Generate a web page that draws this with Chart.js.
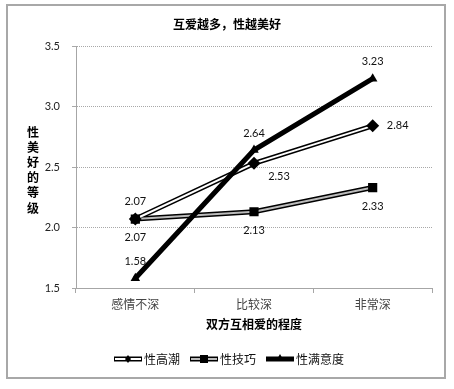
<!DOCTYPE html>
<html>
<head>
<meta charset="utf-8">
<script src="https://cdn.jsdelivr.net/npm/chart.js@4.4.0/dist/chart.umd.min.js"></script>
<style>
  html, body { margin: 0; padding: 0; background: #fff; }
  canvas { display: block; }
</style>
</head>
<body>
<canvas id="c" width="454" height="389"></canvas>
<script>
// data
const categories = ['感情不深', '比较深', '非常深'];
const orgasm = [2.07, 2.53, 2.84];        // 性高潮
const skill = [2.07, 2.13, 2.33];         // 性技巧
const satisfaction = [1.58, 2.64, 3.23];  // 性满意度
const seriesNames = ['性高潮', '性技巧', '性满意度'];
const yTicks = [1.5, 2.0, 2.5, 3.0, 3.5];
const chartTitle = '互爱越多，性越美好';
const xTitle = '双方互相爱的程度';
const yTitle = '性美好的等级';

const latin = "Lato, 'Noto Sans CJK SC', sans-serif";
const cjk = "'Noto Sans CJK SC', sans-serif";

// label offsets (px) from each point: [series][point]
const labelOffsets = [
    [[0, -18], [25, 13], [25, 0]],   // 性高潮
    [[0, 18], [0, 19], [0, 19]],     // 性技巧
    [[0, -17], [0, -17], [0, -17]]   // 性满意度
];

const frame = {
    id: 'frame',
    beforeDraw(chart) {
        const ctx = chart.ctx;
        ctx.save();
        ctx.fillStyle = '#fff';
        ctx.fillRect(0, 0, chart.width, chart.height);
        ctx.strokeStyle = '#a8a8a8';
        ctx.lineWidth = 2;
        ctx.strokeRect(7, 5, 438, 373);
        ctx.restore();
    },
    afterDraw(chart) {
        const ctx = chart.ctx;
        ctx.save();
        ctx.fillStyle = '#000';
        ctx.textAlign = 'center';
        ctx.textBaseline = 'middle';
        // title
        ctx.font = 'bold 12px ' + cjk;
        ctx.fillText(chartTitle, 227, 24);
        // vertical y title
        const chars = Array.from(yTitle);
        chars.forEach((ch, i) => ctx.fillText(ch, 33, 132 + i * 15.2));

        // legend
        ctx.font = '12px ' + cjk;
        const iconW = 28, gap = 2, itemGap = 10;
        const widths = seriesNames.map(n => iconW + gap + ctx.measureText(n).width);
        const total = widths.reduce((a, b) => a + b, 0) + itemGap * (widths.length - 1);
        let x = 229 - total / 2;
        const y = 359;
        seriesNames.forEach((name, i) => {
            drawIcon(ctx, i, x, y, iconW);
            ctx.textAlign = 'left';
            ctx.fillStyle = '#111';
            ctx.fillText(name, x + iconW + gap, y);
            x += widths[i] + itemGap;
        });
        ctx.restore();
    },
    afterDatasetsDraw(chart) {
        const ctx = chart.ctx;
        const metaIdx = [1, 2, 0];
        const values = [orgasm, skill, satisfaction];
        ctx.save();
        ctx.font = '11px ' + latin;
        ctx.fillStyle = '#111';
        ctx.textAlign = 'center';
        ctx.textBaseline = 'middle';
        metaIdx.forEach((di, s) => {
            const meta = chart.getDatasetMeta(di);
            meta.data.forEach((pt, j) => {
                const o = labelOffsets[s][j];
                ctx.fillText(values[s][j].toFixed(2), pt.x + o[0], pt.y + o[1]);
            });
        });
        ctx.restore();
    }
};

function drawIcon(ctx, i, x, y, w) {
    ctx.save();
    ctx.lineCap = 'butt';
    if (i < 2) {
        ctx.strokeStyle = '#000';
        ctx.lineWidth = 5;
        ctx.beginPath(); ctx.moveTo(x, y); ctx.lineTo(x + w, y); ctx.stroke();
        ctx.strokeStyle = i === 0 ? '#fff' : '#bbb';
        ctx.lineWidth = 2;
        ctx.beginPath(); ctx.moveTo(x + 1, y); ctx.lineTo(x + w - 1, y); ctx.stroke();
        ctx.fillStyle = '#000';
        if (i === 0) {
            ctx.beginPath();
            ctx.moveTo(x + w / 2, y - 4); ctx.lineTo(x + w / 2 + 3, y);
            ctx.lineTo(x + w / 2, y + 4); ctx.lineTo(x + w / 2 - 3, y);
            ctx.closePath(); ctx.fill();
        } else {
            ctx.fillRect(x + w / 2 - 4, y - 4, 8, 8);
        }
    } else {
        ctx.strokeStyle = '#000';
        ctx.lineWidth = 5;
        ctx.beginPath(); ctx.moveTo(x, y); ctx.lineTo(x + w, y); ctx.stroke();
        ctx.fillStyle = '#000';
        ctx.beginPath();
        ctx.moveTo(x + w / 2, y - 5); ctx.lineTo(x + w / 2 + 4, y + 2); ctx.lineTo(x + w / 2 - 4, y + 2);
        ctx.closePath(); ctx.fill();
    }
    ctx.restore();
}

const flat = { tension: 0, fill: false, pointRadius: 0, pointHoverRadius: 0 };

new Chart(document.getElementById('c'), {
    type: 'line',
    data: {
        labels: categories,
        datasets: [
            { ...flat, label: seriesNames[2], data: satisfaction, borderColor: '#000', borderWidth: 5,
              pointStyle: 'triangle', pointRadius: 5.5, pointBorderWidth: 0,
              pointBackgroundColor: '#000', pointBorderColor: '#000', order: 0 },
            { ...flat, label: seriesNames[0], data: orgasm, showLine: false,
              pointStyle: 'rectRot', pointRadius: 6.5, pointBorderWidth: 0,
              pointBackgroundColor: '#000', pointBorderColor: '#000', order: 1 },
            { ...flat, label: seriesNames[1], data: skill, showLine: false,
              pointStyle: 'rect', pointRadius: 6.5, pointBorderWidth: 0,
              pointBackgroundColor: '#000', pointBorderColor: '#000', order: 1 },
            { ...flat, data: orgasm, borderColor: '#fff', borderWidth: 2, order: 2 },
            { ...flat, data: skill, borderColor: '#bbb', borderWidth: 2, order: 2 },
            { ...flat, data: orgasm, borderColor: '#000', borderWidth: 5, order: 3 },
            { ...flat, data: skill, borderColor: '#000', borderWidth: 5, order: 3 }
        ]
    },
    options: {
        responsive: false,
        animation: false,
        devicePixelRatio: 1,
        layout: { padding: { left: 0, top: 46, right: 22, bottom: 0 } },
        scales: {
            x: {
                offset: true,
                afterFit: s => { s.height = 101; },
                grid: { display: true, offset: true, drawOnChartArea: false, tickLength: 5, color: '#a6a6a6' },
                border: { color: '#a6a6a6', width: 1 },
                ticks: { color: '#444', font: { family: cjk, size: 12 }, padding: 4 },
                title: { display: true, text: xTitle, color: '#000',
                         font: { family: cjk, size: 12, weight: 'bold' }, padding: { top: 0, bottom: 57 } }
            },
            y: {
                min: 1.5, max: 3.5,
                afterFit: s => { s.width = 76; },
                afterBuildTicks: s => { s.ticks = yTicks.map(v => ({ value: v })); },
                grid: { color: '#a8a8a8', tickLength: 4 },
                border: { color: '#a6a6a6', width: 1, dash: [1, 1] },
                ticks: { color: '#222', font: { family: latin, size: 11 }, padding: 12,
                         callback: v => Number(v).toFixed(1) }
            }
        },
        plugins: { legend: { display: false }, tooltip: { enabled: false } }
    },
    plugins: [frame]
});
</script>
</body>
</html>
